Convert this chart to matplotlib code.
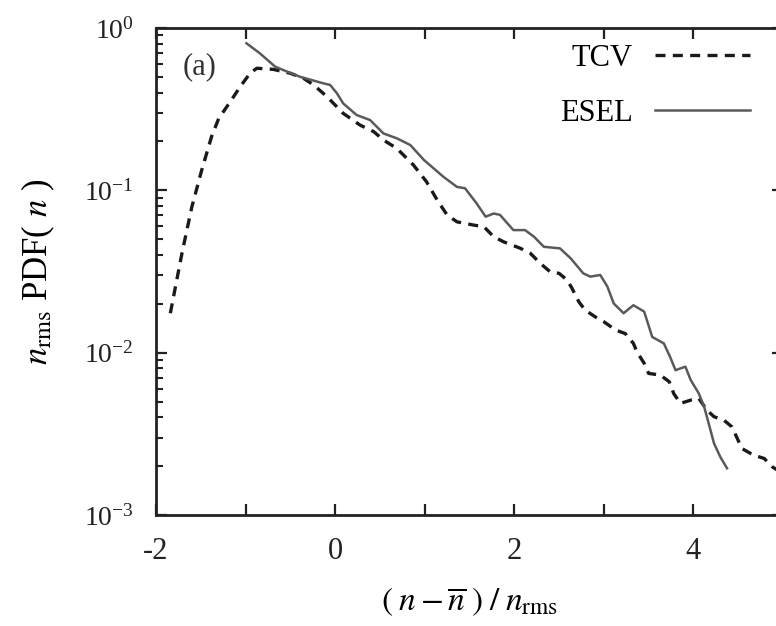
import matplotlib
matplotlib.use("Agg")
import matplotlib.pyplot as plt
from matplotlib.ticker import MultipleLocator, LogLocator, FixedLocator, FixedFormatter, NullFormatter

plt.rcParams["font.family"] = ["Liberation Serif", "DejaVu Serif"]
plt.rcParams["mathtext.fontset"] = "stix"
plt.rcParams["axes.unicode_minus"] = False

# TCV experiment (dashed)
tcv_x = [-1.84, -1.71, -1.60, -1.49, -1.38, -1.30, -1.17, -1.06, -0.95, -0.875,
         -0.69, -0.50, -0.354, -0.24, -0.09, 0.09, 0.28, 0.43, 0.54, 0.69,
         0.875, 1.02, 1.14, 1.25, 1.36, 1.545, 1.66, 1.77, 1.88, 2.07,
         2.18, 2.29, 2.40, 2.50, 2.59, 2.645, 2.72, 2.79, 2.905, 3.00,
         3.13, 3.24, 3.33, 3.37, 3.45, 3.50, 3.63, 3.73, 3.78, 3.855,
         3.97, 4.06, 4.15, 4.23, 4.34, 4.43, 4.49, 4.54, 4.67, 4.79,
         4.88, 5.0]
tcv_y = [0.0175, 0.041, 0.079, 0.133, 0.214, 0.277, 0.352, 0.435, 0.526, 0.565,
         0.556, 0.526, 0.49, 0.446, 0.377, 0.298, 0.252, 0.230, 0.204, 0.181,
         0.143, 0.113, 0.087, 0.0705, 0.064, 0.0611, 0.0597, 0.0518, 0.0482, 0.0439,
         0.0409, 0.0355, 0.0315, 0.0308, 0.028, 0.0249, 0.0206, 0.0183, 0.0166, 0.0155,
         0.0138, 0.0131, 0.0114, 0.0101, 0.0086, 0.00745, 0.00728, 0.00662, 0.0056, 0.00487,
         0.0051, 0.00523, 0.00443, 0.00403, 0.00384, 0.00349, 0.00296, 0.00257, 0.00234, 0.00223,
         0.00198, 0.0018]

# ESEL simulation (solid)
esel_x = [-0.99, -0.84, -0.67, -0.58, -0.39, -0.13, -0.056, 0.02, 0.09, 0.24,
          0.39, 0.54, 0.69, 0.84, 0.99, 1.21, 1.36, 1.45, 1.58, 1.68,
          1.77, 1.84, 1.99, 2.12, 2.22, 2.33, 2.51, 2.63, 2.77, 2.85,
          2.96, 3.04, 3.11, 3.22, 3.33, 3.45, 3.54, 3.67, 3.74, 3.80,
          3.91, 3.97, 4.06, 4.12, 4.17, 4.23, 4.30, 4.375]
esel_y = [0.805, 0.698, 0.578, 0.551, 0.50, 0.456, 0.446, 0.396, 0.343, 0.291,
          0.271, 0.224, 0.209, 0.190, 0.154, 0.121, 0.105, 0.103, 0.083, 0.0688,
          0.072, 0.0706, 0.0569, 0.0569, 0.0518, 0.0449, 0.0439, 0.0381, 0.0308, 0.0294,
          0.0301, 0.0255, 0.0201, 0.0175, 0.0196, 0.0179, 0.0125, 0.0114, 0.0094, 0.0078,
          0.0082, 0.00678, 0.00561, 0.00464, 0.00367, 0.00276, 0.00228, 0.00194]

y_ticks = [1e-3, 1e-2, 1e-1, 1e0]
y_labels = [r"$\mathregular{10^{-3}}$", r"$\mathregular{10^{-2}}$",
            r"$\mathregular{10^{-1}}$", r"$\mathregular{10^{0}}$"]

fig = plt.figure(figsize=(7.76, 6.26), dpi=100)
ax = fig.add_axes([156 / 776, 111 / 626, 627 / 776, 487 / 626])

ax.plot(tcv_x, tcv_y, color="#1a1a1a", lw=2.4, dashes=(3.0, 2.2), label="TCV")
ax.plot(esel_x, esel_y, color="#5a5a5a", lw=1.8, label="ESEL")

ax.set_yscale("log")
ax.set_xlim(-2, 5)
ax.set_ylim(1e-3, 1e0)

ax.xaxis.set_major_locator(MultipleLocator(2))
ax.xaxis.set_minor_locator(MultipleLocator(1))
ax.yaxis.set_major_locator(FixedLocator(y_ticks))
ax.yaxis.set_major_formatter(FixedFormatter(y_labels))
ax.yaxis.set_minor_locator(LogLocator(base=10, subs=range(2, 10)))
ax.yaxis.set_minor_formatter(NullFormatter())

ax.tick_params(which="both", direction="in", top=True, right=True, colors="#222222")
ax.tick_params(which="major", length=8, width=1.6)
ax.tick_params(axis="x", which="minor", length=8, width=1.6)
ax.tick_params(axis="y", which="minor", length=5, width=1.5)
ax.tick_params(axis="x", labelsize=22, pad=16)
ax.tick_params(axis="y", labelsize=20, pad=16)

for s in ax.spines.values():
    s.set_linewidth(2)
    s.set_color("#222222")

ax.set_xlabel(r"$(\;n - \overline{n}\;)\;/\;n_{\mathrm{rms}}$", fontsize=24, labelpad=14)
ax.set_ylabel(r"$n_{\mathrm{rms}}$ PDF( $n$ )", fontsize=25, labelpad=19)

fig.text(183 / 776, 1 - 67 / 626, "(a)", fontsize=22,
         va="center", ha="left", color="#333333")

fig.legend(loc="upper right", bbox_to_anchor=(750 / 776, 1 - 44 / 626),
           frameon=False, markerfirst=False, fontsize=22, handlelength=3.1,
           handletextpad=0.75, labelspacing=0.85, borderpad=0, borderaxespad=0)

fig.savefig("out.png", dpi=100)
